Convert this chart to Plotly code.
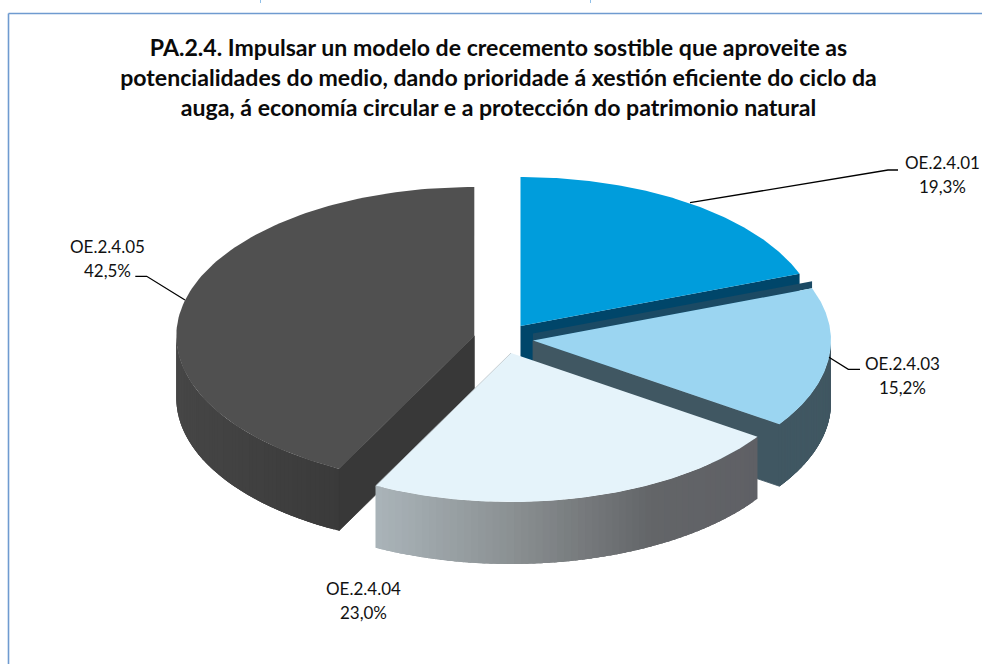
import math
import plotly.graph_objects as go

# ---- data ----
categories = ["OE.2.4.01", "OE.2.4.03", "OE.2.4.04", "OE.2.4.05"]
values = [19.3, 15.2, 23.0, 42.5]
value_labels = ["19,3%", "15,2%", "23,0%", "42,5%"]
title_lines = [
    "PA.2.4. Impulsar un modelo de crecemento sostible que aproveite as",
    "potencialidades do medio, dando prioridade á xestión eficiente do ciclo da",
    "auga, á economía circular e a protección do patrimonio natural",
]

# ---- styling / projection of the tilted exploded pie ----
W, H = 982, 664
RX, RY, DEPTH = 298, 149, 62
apexes = [(520.5, 326), (533, 340.5), (511, 353), (474.3, 336)]
top_colors = ["#009ddc", "#9bd5f1", "#e5f3fa", "#505050"]
cut_colors = ["#00466a", "#405762", "#5f6065", "#383838"]
rim_stops = {
    1: [(0, "#405762"), (1, "#405762")],
    2: [(0, "#aab4b9"), (0.35, "#8b9193"), (0.72, "#636568"), (1, "#5f6065")],
    3: [(0, "#464646"), (0.5, "#404040"), (1, "#3a3a3a")],
}
label_pos = [(942, 174.5), (902, 375), (363, 600.5), (107, 258.5)]
leaders = [
    ([690, 888, 898], [202.7, 170, 170]),
    ([829, 848.3, 860], [357.3, 369.3, 369.3]),
    None,
    ([185, 146.7, 135.3], [300, 276.3, 276.3]),
]

# slice angles (clockwise from 12 o'clock) come from the values
total = sum(values)
edges = [0.0]
for v in values:
    edges.append(edges[-1] + 360.0 * v / total)


def rim(i, deg, drop=0.0):
    ax, ay = apexes[i]
    t = math.radians(deg)
    return ax + RX * math.sin(t), ay - RY * math.cos(t) + drop


def arc(i, a, b, n=80, drop=0.0):
    pts = [rim(i, a + (b - a) * k / n, drop) for k in range(n + 1)]
    return [p[0] for p in pts], [p[1] for p in pts]


def hex2rgb(c):
    return tuple(int(c[j:j + 2], 16) for j in (1, 3, 5))


def ramp(stops, f):
    for (f0, c0), (f1, c1) in zip(stops, stops[1:]):
        if f <= f1:
            k = (f - f0) / (f1 - f0)
            a, b = hex2rgb(c0), hex2rgb(c1)
            return "rgb(%d,%d,%d)" % tuple(round(a[j] + (b[j] - a[j]) * k) for j in range(3))
    return stops[-1][1]


fig = go.Figure()


def poly(xs, ys, color, line=None):
    fig.add_trace(go.Scatter(
        x=xs, y=ys, mode="lines", fill="toself", fillcolor=color,
        line=dict(color=line or color, width=0.8 if line else 0),
        hoverinfo="skip", showlegend=False,
    ))


def draw_rim(i):
    a, b = edges[i], edges[i + 1]
    a, b = max(a, 90), min(b, 270)
    if b <= a:
        return
    xa = rim(i, a)[0]
    xb = rim(i, b)[0]
    lo, hi = min(xa, xb), max(xa, xb)
    n = 60
    for k in range(n):
        a0 = a + (b - a) * k / n
        a1 = min(b, a + (b - a) * (k + 1) / n + 2.0)
        xt, yt = arc(i, a0, a1, 6)
        xd, yd = arc(i, a1, a0, 6, DEPTH)
        xm = rim(i, a + (b - a) * (k + 0.5) / n)[0]
        f = (xm - lo) / (hi - lo)
        poly(xt + xd + [xt[0]], yt + yd + [yt[0]], ramp(rim_stops[i], f))


def draw_top(i):
    ax, ay = apexes[i]
    xs, ys = arc(i, edges[i], edges[i + 1], 120)
    poly([ax] + xs + [ax], [ay] + ys + [ay], top_colors[i])


# dark slice first (furthest left and overlapped by the pale slice)
draw_rim(3)
ax, ay = apexes[3]
tx, ty = rim(3, edges[3])
poly([ax, tx, tx, ax, ax], [ay, ty, ty + DEPTH, ay + DEPTH, ay], cut_colors[3], cut_colors[3])
draw_top(3)

# blue slice: visible leading cut face under its edge
ax, ay = apexes[0]
tx, ty = rim(0, edges[1])
poly([ax, tx, tx, ax, ax], [ay, ty, ty + DEPTH, ay + DEPTH, ay], cut_colors[0])
draw_top(0)

# light blue slice: back band, rim and cut face
ax, ay = apexes[1]
tx, ty = rim(1, edges[1])
poly([ax, tx, tx, ax, ax], [ay - 7, ty - 7, ty, ay, ay - 7], "#1b4a64")
draw_rim(1)
tx, ty = rim(1, edges[2])
poly([ax, tx, tx, ax, ax], [ay, ty, ty + DEPTH, ay + DEPTH, ay], cut_colors[1], cut_colors[1])
draw_top(1)

# pale slice, on top of everything
draw_rim(2)
draw_top(2)
ax, ay = apexes[2]
tx, ty = rim(2, edges[3])
fig.add_trace(go.Scatter(x=[tx, ax], y=[ty, ay], mode="lines",
                         line=dict(color="#b4bcc0", width=0.7),
                         hoverinfo="skip", showlegend=False))

# leader lines
for ld in leaders:
    if ld:
        fig.add_trace(go.Scatter(x=ld[0], y=ld[1], mode="lines",
                                 line=dict(color="#000000", width=1.3),
                                 hoverinfo="skip", showlegend=False))

# labels
for name, val, (lx, ly) in zip(categories, value_labels, label_pos):
    fig.add_annotation(
        x=lx, y=ly, xref="x", yref="y", showarrow=False, align="center",
        text=f'<span style="font-size:17px">{name}<br>{val}</span>',
        font=dict(family="Lato", size=18.5, color="#111111"),
        xanchor="center", yanchor="middle",
    )

fig.update_layout(
    width=W, height=H, autosize=False,
    margin=dict(l=0, r=0, t=0, b=0),
    paper_bgcolor="#ffffff", plot_bgcolor="#ffffff",
    showlegend=False,
    title=dict(
        text="<br>".join(f'<span style="font-size:23.1px"><b>{t}</b></span>' for t in title_lines),
        x=498.5 / W, xanchor="center", xref="paper",
        y=1 - 56 / H, yanchor="middle", yref="container",
        font=dict(family="Lato", size=23, color="#0a0a0a"),
    ),
    xaxis=dict(range=[0, W], visible=False, fixedrange=True),
    yaxis=dict(range=[H, 0], visible=False, fixedrange=True),
    shapes=[
        dict(type="line", xref="x", yref="y", x0=8.5, y0=664, x1=8.5, y1=13.5,
             line=dict(color="#6f9bd0", width=1.6)),
        dict(type="line", xref="x", yref="y", x0=8.5, y0=13.5, x1=982, y1=13.5,
             line=dict(color="#6f9bd0", width=1.6)),
        dict(type="line", xref="x", yref="y", x0=260.5, y0=0, x1=260.5, y1=3,
             line=dict(color="#8fbfe8", width=1)),
        dict(type="line", xref="x", yref="y", x0=590.5, y0=0, x1=590.5, y1=3,
             line=dict(color="#8fbfe8", width=1)),
    ],
)
fig.write_html(
    "out.html",
    config=dict(displayModeBar=False),
    post_script="document.body.style.margin='0';document.body.style.overflow='hidden';",
)
